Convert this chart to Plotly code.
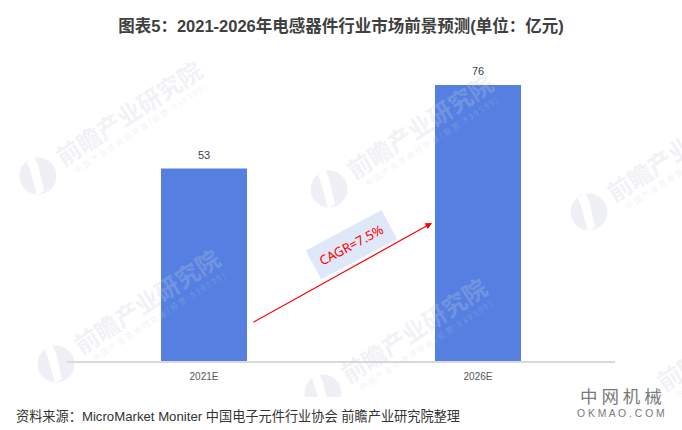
import plotly.graph_objects as go

categories = ["2021E", "2026E"]
values = [53, 76]

title = "图表5\uff1a2021-2026年电感器件行业市场前景预测(单位\uff1a亿元)"
source = "资料来源\uff1aMicroMarket Moniter 中国电子元件行业协会 前瞻产业研究院整理"
cagr = "CAGR=7.5%"

W, H = 682, 430
L, R, T, B = 67, 67, 40, 69
FONT = "Liberation Sans, Noto Sans CJK SC"
WM_COLOR = "rgba(200,205,220,0.27)"


# pixel position in the picture -> paper coordinates
def px(x):
    return (x - L) / (W - L - R)


def py(y):
    return (H - B - y) / (H - T - B)


# watermark logos, pixel centres
wm_logos = [(38, 176), (329, 189), (589, 212), (56, 364), (323, 393)]
# watermark text centres, the last one only peeks in at the right edge
wm_texts = [(128, 112), (419, 125), (679, 148), (146, 300), (413, 329), (729, 337)]

fig = go.Figure()
fig.add_bar(
    x=categories,
    y=values,
    marker=dict(color="#5580E2", line=dict(width=0)),
    hoverinfo="skip",
)

shapes = []
for cx, cy in wm_logos:
    shapes.append(dict(type="circle", xref="paper", yref="paper", layer="below",
                       x0=px(cx - 18.5), x1=px(cx + 18.5), y0=py(cy + 18.5), y1=py(cy - 18.5),
                       fillcolor="#EEF0F5", line=dict(width=0)))
    cut = [(-11, -14), (-4, -19), (0, -11), (6, 15), (-1, 19), (-8, -6)]
    path = "M " + " L ".join(f"{px(cx + a):.4f},{py(cy + b):.4f}" for a, b in cut) + " Z"
    shapes.append(dict(type="path", xref="paper", yref="paper", layer="below", path=path,
                       fillcolor="white", line=dict(width=0)))
# footer strip covers the watermark below it
shapes.append(dict(type="rect", xref="paper", yref="paper", layer="below",
                   x0=px(0), x1=px(W), y0=py(H), y1=py(397),
                   fillcolor="white", line=dict(width=0)))

annotations = []
for cx, cy in wm_texts:
    annotations.append(dict(xref="paper", yref="paper", x=px(cx), y=py(cy), text="<b>前瞻产业研究院</b>",
                            xanchor="center", yanchor="middle", showarrow=False, textangle=-33,
                            font=dict(size=24, color=WM_COLOR, family="Noto Sans CJK SC")))
    annotations.append(dict(xref="paper", yref="paper", x=px(cx + 12), y=py(cy + 16),
                            text="中 国 产 业 咨 询 领 导 者 ( 股 票 : 8 3 9 5 9 9 )",
                            xanchor="center", yanchor="middle", showarrow=False, textangle=-33,
                            font=dict(size=8, color=WM_COLOR, family="Noto Sans CJK SC")))

# value labels sit a little above the bars
for cat, val in zip(categories, values):
    annotations.append(dict(x=cat, y=val, text=str(val), showarrow=False, yshift=14,
                            xanchor="center", yanchor="middle",
                            font=dict(size=11, color="#404040", family=FONT)))

# growth arrow and its label
annotations.append(dict(xref="paper", yref="paper", axref="pixel", ayref="pixel",
                        x=px(432), y=py(223), ax=-180, ay=100, text="",
                        showarrow=True, arrowhead=2, arrowsize=1.1, arrowwidth=1.2,
                        arrowcolor="#FF0000", standoff=0, startstandoff=0))
annotations.append(dict(xref="paper", yref="paper", x=px(351), y=py(245), text=cagr,
                        xanchor="center", yanchor="middle",
                        showarrow=False, textangle=-28, bgcolor="#DFE8F8", borderpad=7,
                        font=dict(size=13, color="#FF0000", family="Noto Sans, Liberation Sans")))

annotations.append(dict(xref="paper", yref="paper", x=px(14), y=py(416), xanchor="left", yanchor="middle",
                        text=source, showarrow=False, font=dict(size=13.2, color="#333333", family=FONT)))
annotations.append(dict(xref="paper", yref="paper", x=px(621), y=py(396), text="中 网 机 械",
                        xanchor="center", yanchor="middle",
                        showarrow=False, font=dict(size=17.5, color="#7A7A7A", family="Noto Sans CJK SC")))
annotations.append(dict(xref="paper", yref="paper", x=px(621), y=py(414), text="O K M A O . C O M",
                        xanchor="center", yanchor="middle",
                        showarrow=False, font=dict(size=10.4, color="#7A7A7A", family=FONT)))

fig.update_layout(
    width=W,
    height=H,
    margin=dict(l=L, r=R, t=T, b=B, pad=0),
    paper_bgcolor="white",
    plot_bgcolor="rgba(0,0,0,0)",
    showlegend=False,
    bargap=0.686,
    title=dict(text="<b>" + title + "</b>", x=0.5, xanchor="center", y=1 - 26 / H, yanchor="middle",
               font=dict(size=16.5, color="#404040", family=FONT)),
    xaxis=dict(type="category", showgrid=False, ticks="outside", ticklen=5, tickcolor="rgba(0,0,0,0)",
               showline=True, linecolor="#D9D9D9", linewidth=1.5,
               tickfont=dict(size=10, color="#595959", family=FONT)),
    yaxis=dict(range=[0, 88.4], visible=False, showgrid=False, zeroline=False),
    shapes=shapes,
    annotations=annotations,
)

fig.write_html("out.html", config=dict(displayModeBar=False), post_script="document.body.style.margin='0';")
